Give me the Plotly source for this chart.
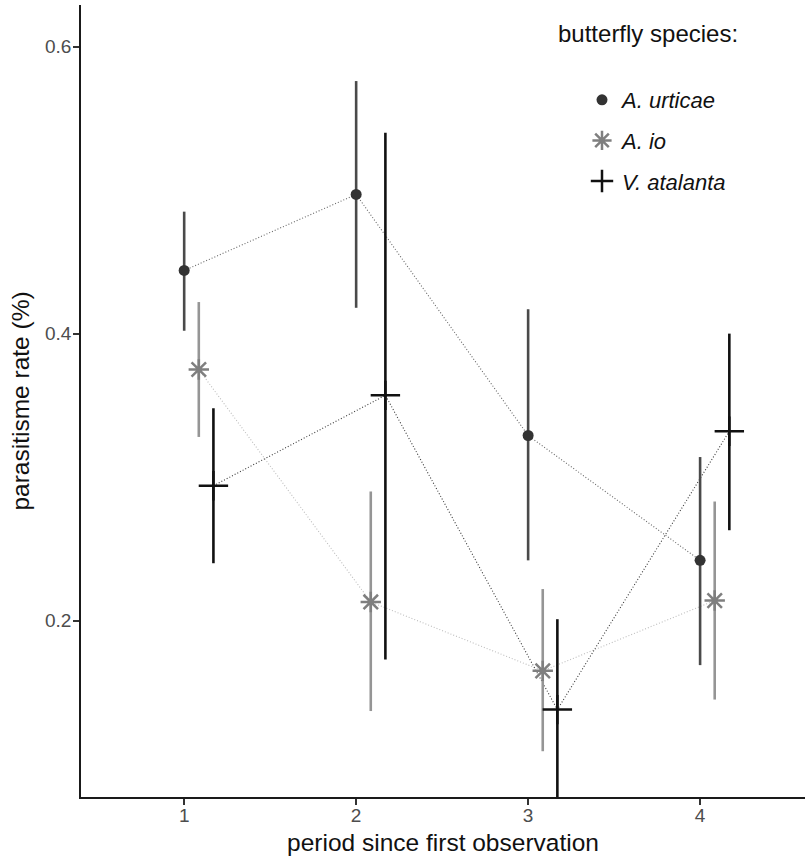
import plotly.graph_objects as go

# ---- data ----
periods = [1, 2, 3, 4]
species = ["A. urticae", "A. io", "V. atalanta"]

urticae_rate = [0.444, 0.497, 0.329, 0.242]
urticae_lo = [0.402, 0.418, 0.242, 0.169]
urticae_hi = [0.485, 0.576, 0.417, 0.314]

io_rate = [0.375, 0.213, 0.165, 0.214]
io_lo = [0.328, 0.137, 0.109, 0.145]
io_hi = [0.422, 0.290, 0.222, 0.283]

atalanta_rate = [0.294, 0.357, 0.138, 0.332]
atalanta_lo = [0.240, 0.173, 0.075, 0.263]
atalanta_hi = [0.348, 0.540, 0.201, 0.400]

y_ticks = [0.2, 0.4, 0.6]
y_ticktext = ["0.2", "0.4", "0.6"]
x_ticks = [1, 2, 3, 4]
x_ticktext = ["1", "2", "3", "4"]

# ---- styling ----
FONT = "Liberation Sans, Arial, Helvetica, sans-serif"
DODGE = [0.0, 0.085, 0.17]
styles = [
    dict(symbol="circle", size=11, color="#333333", bar="#4a4a4a", line="#666666", lw=0),
    dict(symbol="asterisk-open", size=17, color="#7f7f7f", bar="#959595", line="#bdbdbd", lw=2.5),
    dict(symbol="cross-thin-open", size=21, color="#111111", bar="#111111", line="#3a3a3a", lw=2.5),
]
series = [
    (urticae_rate, urticae_lo, urticae_hi),
    (io_rate, io_lo, io_hi),
    (atalanta_rate, atalanta_lo, atalanta_hi),
]

fig = go.Figure()

# dotted connecting lines
for k, (rate, lo, hi) in enumerate(series):
    st = styles[k]
    xs = [p + DODGE[k] for p in periods]
    fig.add_trace(go.Scatter(
        x=xs, y=rate, mode="lines",
        line=dict(color=st["line"], width=1.1, dash="1px,2px"),
        showlegend=False, hoverinfo="skip",
    ))

# points with error bars
for k, (rate, lo, hi) in enumerate(series):
    st = styles[k]
    xs = [p + DODGE[k] for p in periods]
    fig.add_trace(go.Scatter(
        x=xs, y=rate, mode="markers",
        name=f"<i>{species[k]}</i>",
        legendgroup=species[k],
        marker=dict(symbol=st["symbol"], size=st["size"], color=st["color"],
                    line=dict(color=st["color"], width=st["lw"])),
        error_y=dict(type="data", symmetric=False,
                     array=[h - r for h, r in zip(hi, rate)],
                     arrayminus=[r - l for r, l in zip(rate, lo)],
                     color=st["bar"], thickness=2.6, width=0),
    ))

fig.add_annotation(
    text="butterfly species:", xref="paper", yref="paper",
    x=(556 - 81) / 724, y=(797 - 33) / 792, xanchor="left", yanchor="middle",
    showarrow=False, font=dict(family=FONT, size=24, color="#111111"),
)

fig.update_layout(
    width=805, height=863,
    margin=dict(l=81, r=0, t=5, b=66),
    paper_bgcolor="white", plot_bgcolor="white",
    font=dict(family=FONT, color="#111111"),
    showlegend=True,
    legend=dict(
        x=(582 - 81) / 724, y=(797 - 79) / 792, xanchor="left", yanchor="top",
        font=dict(family=FONT, size=22, color="#111111"),
        tracegroupgap=9, bgcolor="rgba(0,0,0,0)",
    ),
)

fig.update_xaxes(
    range=[0.4, 4.61], tickvals=x_ticks, ticktext=x_ticktext,
    showgrid=False, zeroline=False, automargin=False,
    showline=True, linecolor="#1a1a1a", linewidth=1.6,
    ticks="outside", ticklen=6, tickwidth=1.5, tickcolor="#333333",
    tickfont=dict(family=FONT, size=19, color="#4d4d4d"),
    ticklabelstandoff=-6,
    title=dict(text="period since first observation",
               font=dict(family=FONT, size=24.5, color="#111111"), standoff=9),
)
fig.update_yaxes(
    range=[0.0771, 0.629], tickvals=y_ticks, ticktext=y_ticktext,
    showgrid=False, zeroline=False, automargin=False,
    showline=True, linecolor="#1a1a1a", linewidth=1.6,
    ticks="outside", ticklen=6, tickwidth=1.5, tickcolor="#333333",
    tickfont=dict(family=FONT, size=19, color="#4d4d4d"),
    ticklabelstandoff=-2,
    title=dict(text="parasitisme rate (%)",
               font=dict(family=FONT, size=24.5, color="#111111"), standoff=8),
)

fig.write_html(
    "out.html",
    config={"displayModeBar": False},
    post_script="document.body.style.margin='0px';document.body.style.overflow='hidden';",
)
